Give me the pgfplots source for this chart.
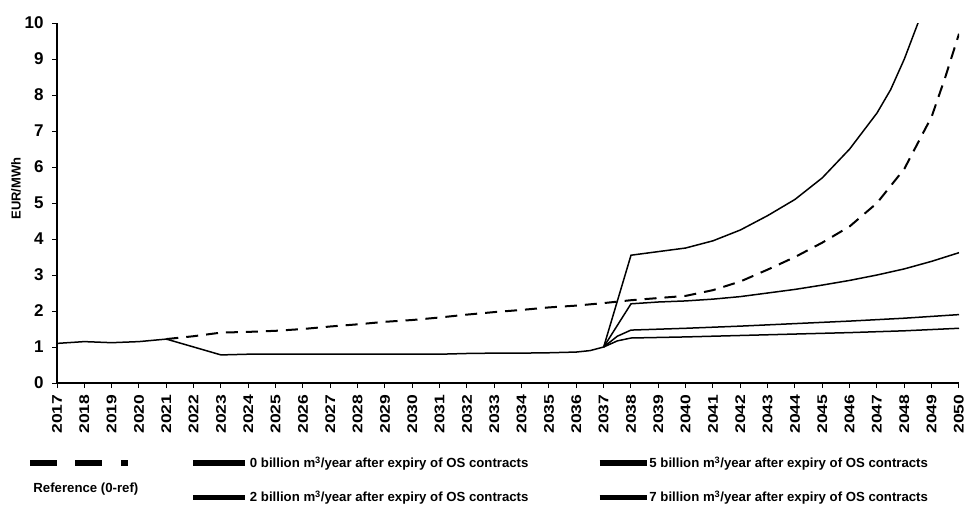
\documentclass[border=0pt]{standalone}
\usepackage{fontspec}
\setmainfont{Liberation Sans}
\usepackage{pgfplots}
\pgfplotsset{compat=1.18}
\begin{document}
\begin{tikzpicture}
\begin{axis}[
  scale only axis, width=902pt, height=360pt,
  xmin=2017, xmax=2050, ymin=0, ymax=10,
  axis x line=bottom, axis y line=left,
  axis line style={-, line width=1.3pt},
  xtick={2017,...,2050}, ytick={0,...,10},
  tick align=outside, major tick length=5pt,
  tick style={line width=1pt, black},
  /pgf/number format/assume math mode=true,
  xticklabel={\scalebox{1.25}[1]{\pgfmathprintnumber[1000 sep={}]{\tick}}},
  xticklabel style={rotate=90, anchor=east, font=\fontsize{14}{14}\selectfont\bfseries},
  xticklabel shift=3pt,
  yticklabel style={font=\fontsize{17}{17}\selectfont\bfseries, xshift=-5pt},
  ylabel={EUR/MWh},
  ylabel style={at={(axis description cs:-0.0455,0.54)}, anchor=center, font=\fontsize{13}{13}\selectfont\bfseries},
  legend columns=3,
  legend style={at={(axis description cs:-0.0333,-0.205)}, anchor=north west, draw=none, fill=none,
    inner sep=0pt, outer sep=0pt, column sep=0pt, row sep=22pt,
    font=\fontsize{13.2}{15}\selectfont\bfseries, nodes={inner sep=0pt}},
  legend cell align=left,
]
\addlegendimage{legend image code/.code={\draw[line width=6.5pt, dash pattern=on 27pt off 18pt on 27pt off 19pt on 7pt] (0pt,0pt) -- (98pt,0pt);}}
\addlegendentry{\makebox[59pt][l]{}}
\addlegendimage{legend image code/.code={\draw[line width=5.5pt] (0pt,0pt) -- (52pt,0pt);}}
\addlegendentry{\hspace*{2pt}\makebox[347pt][l]{0 billion m\textsuperscript{3}/year after expiry of OS contracts}}
\addlegendimage{legend image code/.code={\draw[line width=5.5pt] (0pt,0pt) -- (47pt,0pt);}}
\addlegendentry{5 billion m\textsuperscript{3}/year after expiry of OS contracts}
\addlegendimage{empty legend}
\addlegendentry{\makebox[59pt][l]{\hspace*{-98pt}\smash{\raisebox{4.5pt}{Reference (0-ref)}}}}
\addlegendimage{legend image code/.code={\draw[line width=5.5pt] (0pt,0pt) -- (52pt,0pt);}}
\addlegendentry{\hspace*{2pt}\makebox[347pt][l]{2 billion m\textsuperscript{3}/year after expiry of OS contracts}}
\addlegendimage{legend image code/.code={\draw[line width=5.5pt] (0pt,0pt) -- (47pt,0pt);}}
\addlegendentry{7 billion m\textsuperscript{3}/year after expiry of OS contracts}

% base (shared) solid line
\addplot[forget plot, black, line width=1.5pt] coordinates {
(2017,1.10) (2018,1.15) (2019,1.12) (2020,1.15) (2021,1.22) (2022,1.00) (2023,0.78)
(2024,0.80) (2025,0.80) (2026,0.80) (2027,0.80) (2028,0.80) (2029,0.80) (2030,0.80)
(2031,0.80) (2032,0.82) (2033,0.83) (2034,0.83) (2035,0.84) (2036,0.86) (2036.5,0.90) (2037,1.00)
};
% Reference (0-ref), dashed
\addplot[forget plot, black, line width=2pt, dash pattern=on 12pt off 8pt] coordinates {
(2021,1.22) (2022,1.30) (2023,1.40) (2024,1.42) (2025,1.45) (2026,1.50) (2027,1.57) (2028,1.63)
(2029,1.70) (2030,1.75) (2031,1.82) (2032,1.90) (2033,1.97) (2034,2.03) (2035,2.10) (2036,2.15)
(2037,2.22) (2038,2.30) (2039,2.36) (2040,2.42) (2041,2.58) (2042,2.82) (2043,3.15) (2044,3.50)
(2045,3.90) (2046,4.35) (2047,5.00) (2048,5.95) (2049,7.40) (2049.5,8.50) (2050,9.70)
};
% 0 billion
\addplot[forget plot, black, line width=1.5pt] coordinates {
(2037,1.00) (2038,3.55) (2039,3.65) (2040,3.75) (2041,3.95) (2042,4.25) (2043,4.65) (2044,5.10)
(2045,5.70) (2046,6.50) (2047,7.50) (2047.5,8.15) (2048,9.00) (2048.55,10.10)
};
% 2 billion
\addplot[forget plot, black, line width=1.5pt] coordinates {
(2037,1.00) (2038,2.20) (2039,2.25) (2040,2.28) (2041,2.33) (2042,2.40) (2043,2.50) (2044,2.60)
(2045,2.72) (2046,2.85) (2047,3.00) (2048,3.17) (2049,3.38) (2050,3.62)
};
% 5 billion
\addplot[forget plot, black, line width=1.5pt] coordinates {
(2037,1.00) (2037.5,1.30) (2038,1.47) (2040,1.52) (2042,1.58) (2044,1.65) (2046,1.72) (2048,1.80) (2050,1.90)
};
% 7 billion
\addplot[forget plot, black, line width=1.5pt] coordinates {
(2037,1.00) (2037.5,1.17) (2038,1.25) (2040,1.28) (2042,1.32) (2044,1.36) (2046,1.40) (2048,1.45) (2050,1.52)
};
\end{axis}
\pgfresetboundingbox
\path[use as bounding box] ([shift={(-57pt,-121pt)}]current axis.south west) rectangle ([shift={(9pt,23pt)}]current axis.north east);
\end{tikzpicture}
\end{document}
